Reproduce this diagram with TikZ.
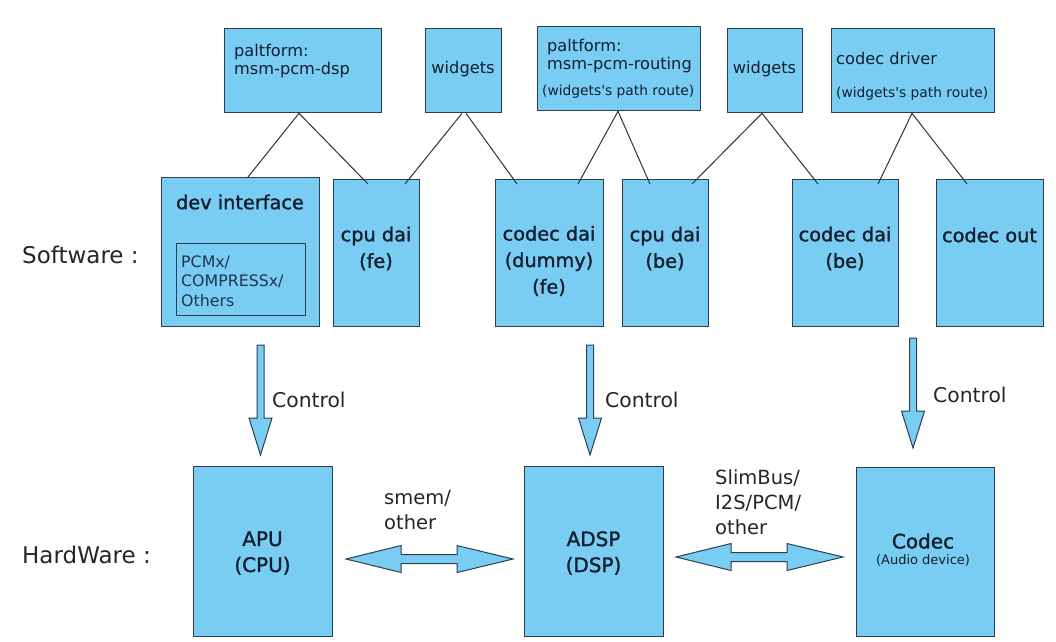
\documentclass[tikz,border=0pt]{standalone}
\usepackage{fontspec}
\setmainfont{DejaVu Sans}
\newfontfamily\bxfont[FakeBold=1.3]{DejaVu Sans}
\newcommand\sqt{\XeTeXglyph\XeTeXcharglyph"27\relax}
\usetikzlibrary{calc}
\definecolor{boxfill}{RGB}{121,205,242}
\definecolor{boxline}{RGB}{45,62,80}
\definecolor{txt}{RGB}{18,30,48}
\definecolor{linkc}{RGB}{50,50,50}
\tikzset{
  box/.style={draw=boxline, fill=boxfill, line width=1.3pt, inner sep=0pt, anchor=north west},
  inbox/.style={draw=boxline, line width=1pt, inner sep=0pt, anchor=north west},
  toptxt/.style={text=txt, inner sep=0pt, font=\fontsize{16.2}{18}\selectfont, align=left},
  smalltxt/.style={text=txt, inner sep=0pt, font=\fontsize{13.8}{16}\selectfont},
  midtxt/.style={text=txt, inner sep=0pt, font=\bxfont\fontsize{19.3}{26.5}\selectfont, align=center},
  lbl/.style={text=black!85, inner sep=0pt, font=\fontsize{20.3}{25}\selectfont, align=left},
  side/.style={text=black!85, inner sep=0pt, font=\fontsize{23}{26}\selectfont, anchor=west},
  link/.style={draw=linkc, line width=1pt},
  arrowfill/.style={draw=boxline, fill=boxfill, line width=1pt, line join=miter},
  ctl/.pic={\filldraw[arrowfill] (-3.5,0) -- (-3.5,73) -- (-11.5,73) -- (0,110) -- (11.5,73) -- (3.5,73) -- (3.5,0) -- cycle;},
  dbl/.pic={\filldraw[arrowfill] (0,0) -- (55,-13.5) -- (55,-4.5) -- (111,-4.5) -- (111,-13.5) -- (167,0) -- (111,13.5) -- (111,4.5) -- (55,4.5) -- (55,13.5) -- cycle;}
}
\begin{document}
\begin{tikzpicture}[x=1pt,y=-1pt]
\useasboundingbox (0,0) rectangle (1056,641);
\fill[white] (0,0) rectangle (1056,641);

% top row
\node[box, minimum width=157pt, minimum height=84pt] (p1) at (224,28) {};
\node[box, minimum width=76pt, minimum height=84pt] (w1) at (425,28) {};
\node[box, minimum width=163pt, minimum height=84pt] (p2) at (537,26) {};
\node[box, minimum width=75pt, minimum height=84pt] (w2) at (727,28) {};
\node[box, minimum width=163pt, minimum height=84pt] (cd) at (831,28) {};

\node[toptxt, anchor=west] (p1t) at (234,61) {paltform:\\msm-pcm-dsp};
\node[toptxt] (w1t) at (463,69) {widgets};
\node[toptxt, anchor=west] (p2t) at (547,56) {paltform:\\msm-pcm-routing};
\node[smalltxt, anchor=west] (p2s) at (542,92) {(widgets\sqt s path route)};
\node[toptxt] (w2t) at (764.5,69) {widgets};
\node[toptxt, anchor=west] (cdt) at (836,58) {codec driver};
\node[smalltxt, anchor=west] (cds) at (836,94) {(widgets\sqt s path route)};

% middle row
\node[box, minimum width=158pt, minimum height=149pt] (devif) at (161,177) {};
\node[inbox, minimum width=129pt, minimum height=72pt] (pcm) at (176,243) {};
\node[box, minimum width=86pt, minimum height=147pt] (cpufe) at (333,179) {};
\node[box, minimum width=108pt, minimum height=147pt] (codecfe) at (495,179) {};
\node[box, minimum width=86pt, minimum height=147pt] (cpube) at (622,179) {};
\node[box, minimum width=106pt, minimum height=147pt] (codecbe) at (792,179) {};
\node[box, minimum width=107pt, minimum height=147pt] (codecout) at (936,179) {};

\node[midtxt] (devift) at (240,202) {dev interface};
\node[text={rgb,255:red,32;green,52;blue,80}, inner sep=0pt, font=\fontsize{15.8}{19.5}\selectfont, align=left, anchor=west] (pcmt) at (181,281) {PCMx/\\COMPRESSx/\\Others};
\node[midtxt] (cpufet) at (376,248.5) {cpu dai\\(fe)};
\node[midtxt] (codecfet) at (549,261) {codec dai\\(dummy)\\(fe)};
\node[midtxt] (cpubet) at (665,248.5) {cpu dai\\(be)};
\node[midtxt] (codecbet) at (845,248.5) {codec dai\\(be)};
\node[midtxt] (codecoutt) at (989.5,235) {codec out};

% links
\draw[link] ([xshift=75pt]p1.south west) -- ([xshift=87pt]devif.north west);
\draw[link] ([xshift=75pt]p1.south west) -- ([xshift=35pt,yshift=-5pt]cpufe.north west);
\draw[link] ([xshift=37pt]w1.south west) -- ([xshift=72pt,yshift=-5pt]cpufe.north west);
\draw[link] ([xshift=41pt]w1.south west) -- ([xshift=22pt,yshift=-5pt]codecfe.north west);
\draw[link] ([xshift=81pt]p2.south west) -- ([xshift=83pt,yshift=-5pt]codecfe.north west);
\draw[link] ([xshift=81pt]p2.south west) -- ([xshift=28pt,yshift=-5pt]cpube.north west);
\draw[link] ([xshift=35pt]w2.south west) -- ([xshift=70pt,yshift=-5pt]cpube.north west);
\draw[link] ([xshift=35pt]w2.south west) -- ([xshift=26pt,yshift=-5pt]codecbe.north west);
\draw[link] ([xshift=81pt]cd.south west) -- ([xshift=86pt,yshift=-5pt]codecbe.north west);
\draw[link] ([xshift=81pt]cd.south west) -- ([xshift=31pt,yshift=-5pt]codecout.north west);

% bottom row
\node[box, minimum width=139pt, minimum height=170pt] (apu) at (193,466) {};
\node[box, minimum width=139pt, minimum height=170pt] (adsp) at (524,466) {};
\node[box, minimum width=138pt, minimum height=169pt] (codec) at (856,467) {};

\node[midtxt, font=\bxfont\fontsize{20}{26}\selectfont] (aput) at (262.5,553) {APU\\(CPU)};
\node[midtxt, font=\bxfont\fontsize{20}{26}\selectfont] (adspt) at (593.5,553) {ADSP\\(DSP)};
\node[midtxt, font=\bxfont\fontsize{20}{24}\selectfont] (codect) at (923,541) {Codec};
\node[smalltxt, font=\fontsize{13}{15}\selectfont] (codecs) at (923,560) {(Audio device)};

% control arrows
\pic at (260.5,345) {ctl};
\pic at (590,345) {ctl};
\pic at (913,338) {ctl};
\node[lbl, anchor=west] (c1) at (272,400) {Control};
\node[lbl, anchor=west] (c2) at (605,400) {Control};
\node[lbl, anchor=west] (c3) at (933,395) {Control};

% double arrows
\pic at (346,559) {dbl};
\pic at (676,557) {dbl};
\node[lbl, anchor=west, font=\fontsize{19.5}{25}\selectfont] (l1) at (384,510.5) {smem/\\other};
\node[lbl, anchor=west, font=\fontsize{19.5}{25}\selectfont] (l2) at (715,502) {SlimBus/\\I2S/PCM/\\other};

% side labels
\node[side] (sw) at (22,255) {Software :};
\node[side] (hw) at (22,555) {HardWare :};
\end{tikzpicture}
\end{document}
